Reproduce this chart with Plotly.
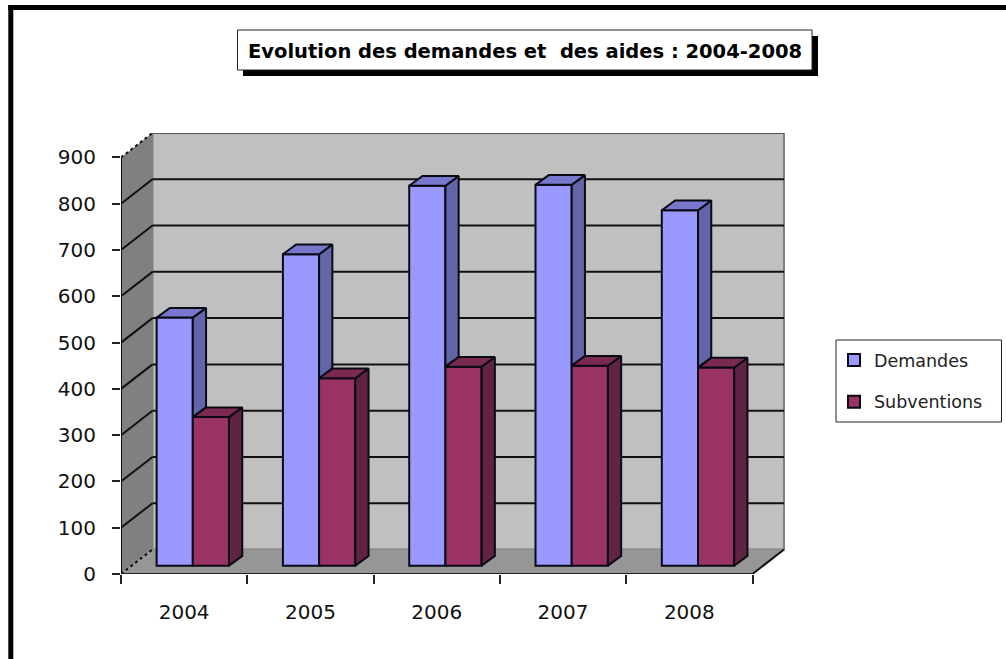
import plotly.graph_objects as go

years = ["2004", "2005", "2006", "2007", "2008"]
demandes = [536, 673, 821, 823, 768]
subventions = [321, 405, 430, 432, 428]
y_ticks = [0, 100, 200, 300, 400, 500, 600, 700, 800, 900]

FONT = "DejaVu Sans"

# fake 3D geometry, in axis units (1 category = 126.3 px, 100 = 46.3 px)
WALL_DX, WALL_DY = 0.2493, 52.9
BAR_BASE = 18
BAR_W = 0.2865
BAR_DX, BAR_DY = 0.105, 21
BLUE_OFF, RED_OFF = -0.218, 0.0685
X_LEFT, X_RIGHT = -0.5, 4.5


def px_x(p):
    return (p - 121) / 664


def px_y(p):
    return (574 - p) / 441


def side_and_top(values, offset):
    """Polygons for the right side and the top of each bar, None separated."""
    side_x, side_y, top_x, top_y = [], [], [], []
    for i, v in enumerate(values):
        l = i + offset
        r = l + BAR_W
        t = BAR_BASE + v
        side_x += [r, r + BAR_DX, r + BAR_DX, r, r, None]
        side_y += [t, t + BAR_DY, BAR_BASE + BAR_DY, BAR_BASE, t, None]
        top_x += [l, l + BAR_DX, r + BAR_DX, r, l, None]
        top_y += [t, t + BAR_DY, t + BAR_DY, t, t, None]
    return side_x, side_y, top_x, top_y


def blue_side(values, lower, offset):
    # only the part that is not hidden behind the maroon bar
    xs, ys = [], []
    for i, (v, w) in enumerate(zip(values, lower)):
        r = i + offset + BAR_W
        t = BAR_BASE + v
        b = BAR_BASE + w
        xs += [r, r + BAR_DX, r + BAR_DX, r, r, None]
        ys += [t, t + BAR_DY, b + BAR_DY, b, t, None]
    return xs, ys


def poly(xs, ys, fill):
    return go.Scatter(x=xs, y=ys, mode="lines", fill="toself", fillcolor=fill,
                      line=dict(color="#0a0a14", width=2), showlegend=False,
                      hoverinfo="skip")


fig = go.Figure()

fig.add_bar(x=list(range(5)), y=demandes, base=BAR_BASE, width=BAR_W, offset=BLUE_OFF,
            name="Demandes", legendgroup="a",
            marker=dict(color="#9999FF", line=dict(color="#0a0a14", width=2)))
fig.add_bar(x=list(range(5)), y=subventions, base=BAR_BASE, width=BAR_W, offset=RED_OFF,
            name="Subventions", legendgroup="b",
            marker=dict(color="#993366", line=dict(color="#0a0a14", width=2)))

_, _, blue_top_x, blue_top_y = side_and_top(demandes, BLUE_OFF)
blue_side_x, blue_side_y = blue_side(demandes, subventions, BLUE_OFF)
red_side_x, red_side_y, red_top_x, red_top_y = side_and_top(subventions, RED_OFF)

fig.add_trace(poly(blue_side_x, blue_side_y, "#6464A8"))
fig.add_trace(poly(blue_top_x, blue_top_y, "#7777CC"))
fig.add_trace(poly(red_side_x, red_side_y, "#612342"))
fig.add_trace(poly(red_top_x, red_top_y, "#7A2951"))

# front axis lines
fig.add_trace(go.Scatter(x=[X_LEFT, X_LEFT], y=[0, 900], mode="lines", cliponaxis=False,
                         line=dict(color="#111111", width=2), showlegend=False, hoverinfo="skip"))
fig.add_trace(go.Scatter(x=[X_LEFT, X_RIGHT], y=[0, 0], mode="lines", cliponaxis=False,
                         line=dict(color="#222222", width=2), showlegend=False, hoverinfo="skip"))

bx0, bx1 = X_LEFT + WALL_DX, X_RIGHT + WALL_DX
shapes = [
    # back wall
    dict(type="rect", xref="x", yref="y", x0=bx0, x1=bx1, y0=WALL_DY, y1=900 + WALL_DY,
         fillcolor="#C0C0C0", line=dict(color="#808080", width=2), layer="below"),
    # left wall
    dict(type="path", xref="x", yref="y", layer="below", fillcolor="#808080", line=dict(width=0),
         path=f"M{X_LEFT},0 L{X_LEFT},900 L{bx0},{900 + WALL_DY} L{bx0},{WALL_DY} Z"),
    # floor
    dict(type="path", xref="x", yref="y", layer="below", fillcolor="#969696", line=dict(width=0),
         path=f"M{X_LEFT},0 L{X_RIGHT},0 L{bx1},{WALL_DY} L{bx0},{WALL_DY} Z"),
    dict(type="line", xref="x", yref="y", layer="below", x0=X_RIGHT, x1=bx1, y0=0, y1=WALL_DY,
         line=dict(color="#111111", width=2)),
    dict(type="line", xref="x", yref="y", layer="below", x0=bx0, x1=bx1, y0=900 + WALL_DY, y1=900 + WALL_DY,
         line=dict(color="#555555", width=2)),
]
for v in y_ticks:
    if v == 0 or v == 900:
        # the two end diagonals are dotted in the original
        shapes.append(dict(type="line", xref="x", yref="y", layer="below", x0=X_LEFT, x1=bx0,
                           y0=v, y1=v + WALL_DY, line=dict(color="#111111", width=2, dash="dot")))
        continue
    shapes.append(dict(type="line", xref="x", yref="y", layer="below", x0=X_LEFT, x1=bx0,
                       y0=v, y1=v + WALL_DY, line=dict(color="#111111", width=2)))
    shapes.append(dict(type="line", xref="x", yref="y", layer="below", x0=bx0, x1=bx1,
                       y0=v + WALL_DY, y1=v + WALL_DY, line=dict(color="#111111", width=2)))

# outer frame, top and left only
shapes += [
    dict(type="rect", xref="paper", yref="paper", x0=px_x(8.3), x1=px_x(1006), y0=px_y(5), y1=px_y(10),
         fillcolor="black", line=dict(width=0)),
    dict(type="rect", xref="paper", yref="paper", x0=px_x(8.3), x1=px_x(13.3), y0=px_y(5), y1=px_y(659),
         fillcolor="black", line=dict(width=0)),
    # title box and its shadow
    dict(type="rect", xref="paper", yref="paper", x0=px_x(243), x1=px_x(818), y0=px_y(36), y1=px_y(76),
         fillcolor="black", line=dict(width=0)),
    dict(type="rect", xref="paper", yref="paper", x0=px_x(237.5), x1=px_x(812), y0=px_y(30), y1=px_y(70),
         fillcolor="white", line=dict(color="#222222", width=1)),
    # legend box, the legend itself has no border so its entries can sit freely
    dict(type="rect", xref="paper", yref="paper", x0=px_x(836), x1=px_x(1001.5), y0=px_y(340), y1=px_y(422),
         fillcolor="white", line=dict(color="#222222", width=1)),
]

fig.update_layout(
    width=1006,
    height=659,
    margin=dict(l=121, r=221, t=133, b=85, autoexpand=False),
    paper_bgcolor="white",
    plot_bgcolor="white",
    barmode="overlay",
    shapes=shapes,
    font=dict(family=FONT, color="#111111", size=20),
    annotations=[dict(text="<b>Evolution des demandes et  des aides : 2004-2008</b>", xref="paper", yref="paper",
                      x=px_x(525), y=px_y(51), xanchor="center", yanchor="middle", showarrow=False,
                      font=dict(family=FONT, size=19.5, color="black"))],
    legend=dict(x=px_x(834), y=px_y(342), xanchor="left", yanchor="top", bgcolor="rgba(0,0,0,0)",
                borderwidth=0, traceorder="grouped", tracegroupgap=16,
                font=dict(family=FONT, size=17.5, color="#222222")),
    xaxis=dict(range=[X_LEFT, X_LEFT + 664 / 126.3], tickvals=list(range(5)), ticktext=years,
               ticks="", showgrid=False, zeroline=False, showline=False, ticklabelstandoff=24,
               minor=dict(tickvals=[-0.5, 0.5, 1.5, 2.5, 3.5, 4.5], ticks="outside", ticklen=9,
                          tickwidth=1.5, tickcolor="#222222", showgrid=False)),
    yaxis=dict(range=[0, 441 / 0.4628], tickvals=y_ticks, ticks="outside", ticklen=8, tickwidth=1.5,
               tickcolor="#222222", showgrid=False, zeroline=False, showline=False, ticklabelstandoff=12),
)

fig.write_html("out.html", config={"displayModeBar": False},
               post_script="document.body.style.margin='0';")
